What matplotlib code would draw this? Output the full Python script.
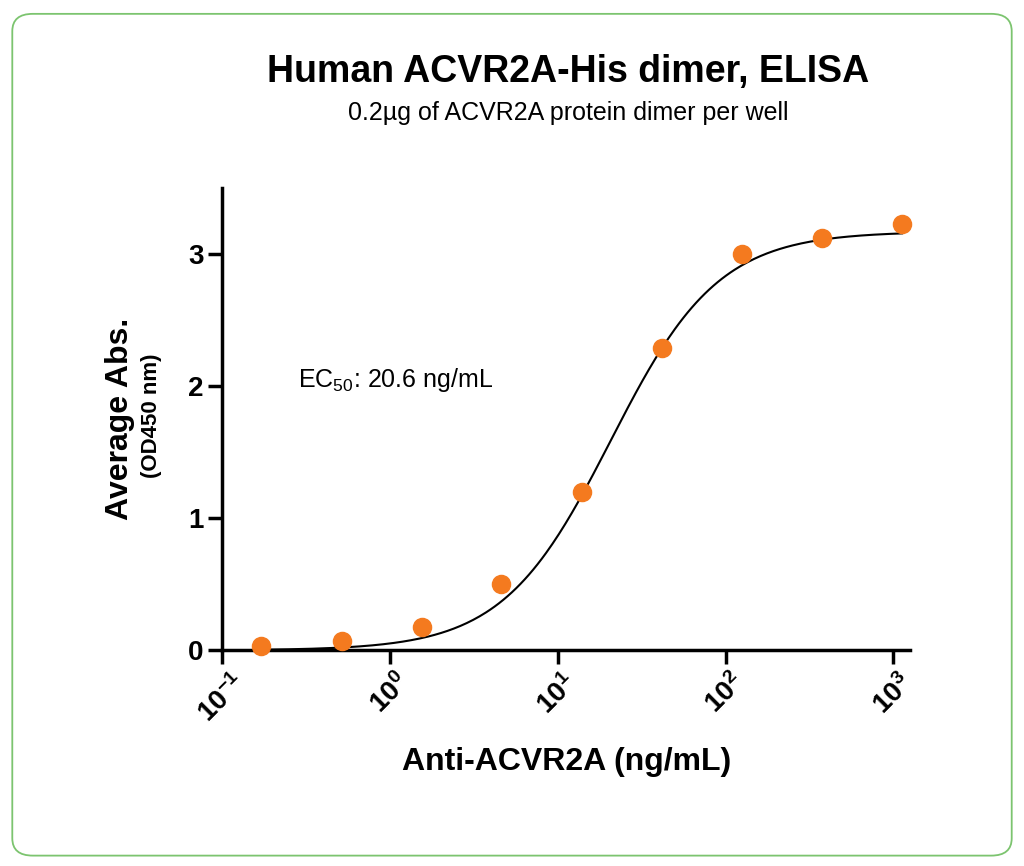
import numpy as np
import matplotlib
matplotlib.use("Agg")
import matplotlib.pyplot as plt
from matplotlib.patches import FancyBboxPatch

plt.rcParams["font.family"] = "Liberation Sans"
plt.rcParams["mathtext.fontset"] = "custom"
plt.rcParams["mathtext.rm"] = "Liberation Sans"
plt.rcParams["mathtext.bf"] = "Liberation Sans:bold"

# measured points
conc = [0.17, 0.52, 1.55, 4.6, 13.9, 41.7, 125, 375, 1125]
absorb = [0.03, 0.07, 0.18, 0.50, 1.20, 2.29, 3.00, 3.12, 3.23]

# 4PL fit parameters
bottom, top, ec50, hill = 0.0, 3.17, 20.6, 1.35

fig = plt.figure(figsize=(10.24, 8.66), dpi=100)
fig.patches.append(FancyBboxPatch((0.012, 0.012), 0.976, 0.972,
                                  boxstyle="round,pad=0,rounding_size=0.02",
                                  transform=fig.transFigure, fill=False,
                                  edgecolor="#7cc46f", linewidth=1.3))

ax = fig.add_axes([0.217, 0.249, 0.672, 0.534])
xs = np.logspace(np.log10(0.17), np.log10(1125), 300)
ys = bottom + (top - bottom) / (1 + (ec50 / xs) ** hill)
ax.plot(xs, ys, color="black", lw=1.5, zorder=2)
ax.scatter(conc, absorb, s=170, color="#f47a1f", zorder=3, clip_on=False)

ax.set_xscale("log")
ax.set_xlim(0.1, 1260)
ax.set_ylim(0, 3.5)
ax.set_yticks([0, 1, 2, 3])
ax.set_xticks([0.1, 1, 10, 100, 1000])
ax.set_xticklabels([r"$\mathbf{10^{-1}}$", r"$\mathbf{10^{0}}$", r"$\mathbf{10^{1}}$",
                    r"$\mathbf{10^{2}}$", r"$\mathbf{10^{3}}$"], rotation=45)
ax.minorticks_off()
for s in ["top", "right"]:
    ax.spines[s].set_visible(False)
for s in ["left", "bottom"]:
    ax.spines[s].set_linewidth(2.5)
ax.tick_params(width=2.5, length=10, labelsize=20)
for lab in ax.get_yticklabels():
    lab.set_fontweight("bold")

ax.set_xlabel("Anti-ACVR2A (ng/mL)", fontsize=23, fontweight="bold", labelpad=14)
ax.set_ylabel("Average Abs.", fontsize=23, fontweight="bold", labelpad=38)
fig.text(0.148, 0.52, "(OD450 nm)", rotation=90, fontsize=16, fontweight="bold",
         ha="center", va="center")
ax.text(0.11, 0.57, r"EC$_{50}$: 20.6 ng/mL", transform=ax.transAxes, fontsize=18)

fig.text(0.555, 0.905, "Human ACVR2A-His dimer, ELISA", fontsize=27,
         fontweight="bold", ha="center")
fig.text(0.555, 0.862, "0.2µg of ACVR2A protein dimer per well", fontsize=18,
         ha="center")

fig.savefig("out.png", dpi=100)
